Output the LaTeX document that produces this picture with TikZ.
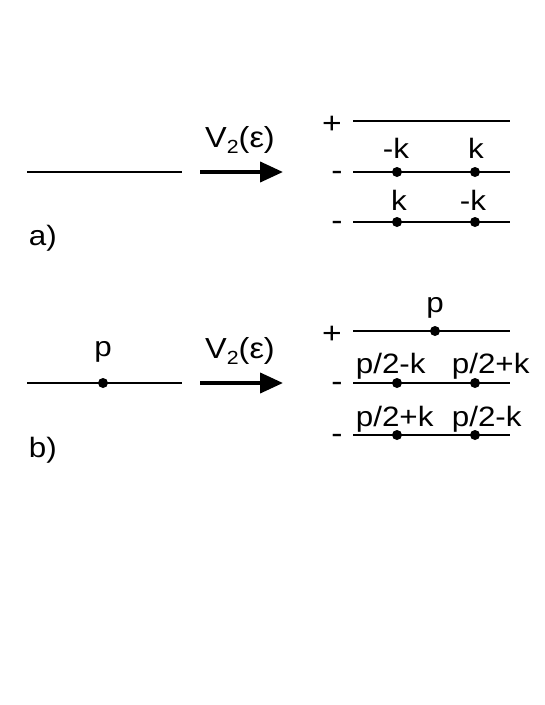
\documentclass[tikz,border=0pt]{standalone}
\usepackage{fontspec}
\setmainfont[FakeStretch=1.12]{Liberation Sans}
\usetikzlibrary{positioning, calc, arrows.meta}

\newcommand{\vmap}{V\raisebox{-6pt}{\fontsize{19}{19}\selectfont 2}(ε)}

\begin{document}
\begin{tikzpicture}[
  x=1pt, y=-1pt, line width=1.7pt,
  lbl/.style  = {font=\fontsize{28}{30}\selectfont, inner sep=0pt, anchor=base},
  sgn/.style  = {font=\fontsize{30}{30}\selectfont, inner sep=0pt, anchor=base},
  dot/.style  = {circle, fill, inner sep=0pt, minimum size=10pt},
  map/.style  = {line width=4pt, -{Triangle[length=23pt, width=20pt]}},
]
  \useasboundingbox (0,0) rectangle (545,705);

  % --- a) ---
  \coordinate (aL) at (27,172);
  \coordinate (aR) at (182,172);
  \draw (aL) -- (aR);
  \node[lbl, anchor=base west] (alab) at (28,245) {a)};

  \coordinate (aS) at (200,172);
  \coordinate (aT) at (283,172);
  \draw[map] (aS) -- (aT);
  \node[lbl, font=\fontsize{29}{30}\selectfont] (aV) at (240,147) {\vmap};

  \node[sgn] (ap1) at (332,133) {+};
  \node[sgn] (am2) at (337,180) {-};
  \node[sgn] (am3) at (337,230) {-};

  \coordinate (a1L) at (353,121);  \coordinate (a1R) at (510,121);
  \coordinate (a2L) at (353,172);  \coordinate (a2R) at (510,172);
  \coordinate (a3L) at (353,222);  \coordinate (a3R) at (510,222);
  \draw (a1L) -- (a1R);
  \draw (a2L) -- (a2R);
  \draw (a3L) -- (a3R);

  \node[dot] (a2x) at (397,172) {};
  \node[dot] (a2y) at (475,172) {};
  \node[dot] (a3x) at (397,222) {};
  \node[dot] (a3y) at (475,222) {};

  \node[lbl] (a2xl) at (396,158) {-k};
  \node[lbl] (a2yl) at (476,158) {k};
  \node[lbl] (a3xl) at (399,210) {k};
  \node[lbl] (a3yl) at (473,210) {-k};

  % --- b) ---
  \coordinate (bL) at (27,383);
  \coordinate (bR) at (182,383);
  \draw (bL) -- (bR);
  \node[dot] (bp) at (103,383) {};
  \node[lbl] (bpl) at (103,356) {p};
  \node[lbl, anchor=base west] (blab) at (28,457) {b)};

  \coordinate (bS) at (200,383);
  \coordinate (bT) at (283,383);
  \draw[map] (bS) -- (bT);
  \node[lbl, font=\fontsize{29}{30}\selectfont] (bV) at (240,358) {\vmap};

  \node[sgn] (bp1) at (332,343) {+};
  \node[sgn] (bm2) at (337,391) {-};
  \node[sgn] (bm3) at (337,443) {-};

  \coordinate (b1L) at (353,331);  \coordinate (b1R) at (510,331);
  \coordinate (b2L) at (353,383);  \coordinate (b2R) at (510,383);
  \coordinate (b3L) at (353,435);  \coordinate (b3R) at (510,435);
  \draw (b1L) -- (b1R);
  \draw (b2L) -- (b2R);
  \draw (b3L) -- (b3R);

  \node[dot] (b1x) at (435,331) {};
  \node[dot] (b2x) at (397,383) {};
  \node[dot] (b2y) at (475,383) {};
  \node[dot] (b3x) at (397,435) {};
  \node[dot] (b3y) at (475,435) {};

  \node[lbl] (b1xl) at (435,312) {p};
  \node[lbl, anchor=base west] (b2xl) at (355,373) {p/2-k};
  \node[lbl, anchor=base west] (b2yl) at (451,373) {p/2+k};
  \node[lbl, anchor=base west] (b3xl) at (355,426) {p/2+k};
  \node[lbl, anchor=base west] (b3yl) at (451,426) {p/2-k};
\end{tikzpicture}
\end{document}
